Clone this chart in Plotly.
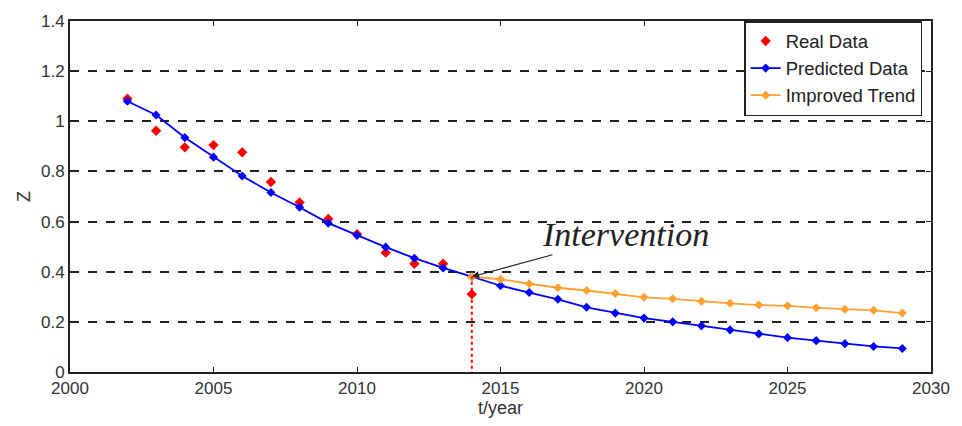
import plotly.graph_objects as go

real_years = [2002, 2003, 2004, 2005, 2006, 2007, 2008, 2009, 2010, 2011, 2012, 2013, 2014]
real_z = [1.09, 0.962, 0.896, 0.905, 0.876, 0.758, 0.676, 0.61, 0.55, 0.476, 0.432, 0.432, 0.31]

pred_years = list(range(2002, 2030))
pred_z = [1.08, 1.025, 0.935, 0.857, 0.782, 0.716, 0.657, 0.594, 0.545, 0.498, 0.454, 0.415, 0.38,
          0.344, 0.317, 0.29, 0.258, 0.235, 0.215, 0.2, 0.184, 0.168, 0.152, 0.137, 0.125, 0.113,
          0.102, 0.094]

impr_years = list(range(2014, 2030))
impr_z = [0.38, 0.37, 0.352, 0.336, 0.325, 0.313, 0.298, 0.292, 0.282, 0.274, 0.267, 0.264,
          0.256, 0.25, 0.246, 0.235]

x_ticks = [2000, 2005, 2010, 2015, 2020, 2025, 2030]
y_ticks = [0, 0.2, 0.4, 0.6, 0.8, 1.0, 1.2, 1.4]
y_tick_labels = ["0", "0.2", "0.4", "0.6", "0.8", "1", "1.2", "1.4"]

intervention_year = 2014
intervention_z = 0.38

fig = go.Figure()

fig.add_trace(go.Scatter(
    x=real_years, y=real_z, mode="markers", name="Real Data",
    marker=dict(symbol="diamond", color="#ff0000", size=8),
))
fig.add_trace(go.Scatter(
    x=pred_years, y=pred_z, mode="lines+markers", name="Predicted Data",
    line=dict(color="#0000ff", width=1.8),
    marker=dict(symbol="diamond", color="#0000ff", size=7),
))
fig.add_trace(go.Scatter(
    x=impr_years, y=impr_z, mode="lines+markers", name="Improved Trend",
    line=dict(color="#ffa030", width=1.8),
    marker=dict(symbol="diamond", color="#ffa030", size=7),
))

# red dotted vertical marker at intervention
fig.add_trace(go.Scatter(
    x=[intervention_year, intervention_year], y=[-0.035, intervention_z], mode="lines",
    line=dict(color="#ff0000", width=2, dash="dot"), showlegend=False, cliponaxis=False,
    hoverinfo="skip",
))

fig.add_annotation(
    x=intervention_year, y=intervention_z, xref="x", yref="y",
    text="<i>Intervention</i>", showarrow=True,
    ax=154, ay=-42, axref="pixel", ayref="pixel",
    arrowhead=2, arrowsize=1.2, arrowwidth=1.2, arrowcolor="#222", standoff=0,
    font=dict(family="Liberation Serif", size=34, color="#222"),
)

fig.update_layout(
    width=962, height=426,
    margin=dict(l=70, r=25, t=14, b=54),
    paper_bgcolor="white", plot_bgcolor="white",
    font=dict(family="Liberation Sans, Arial", size=17, color="#333"),
    legend=dict(
        x=0.783, y=1.0, xanchor="left", yanchor="top",
        bordercolor="#222", borderwidth=1.5, bgcolor="white",
        font=dict(size=18.5, color="#222"), tracegroupgap=0,
    ),
    xaxis=dict(
        range=[2000, 2030], tickvals=x_ticks, showgrid=False, zeroline=False,
        showline=True, linecolor="#222", linewidth=1.8, mirror="ticks",
        ticks="inside", ticklen=5, tickcolor="#222",
        title=dict(text="t/year", standoff=0, font=dict(size=18)),
    ),
    yaxis=dict(
        range=[0, 1.4], tickvals=y_ticks, ticktext=y_tick_labels,
        showgrid=True, gridcolor="#222", griddash="dash", gridwidth=1.5, zeroline=False,
        showline=True, linecolor="#222", linewidth=1.8, mirror="ticks",
        ticks="inside", ticklen=5, tickcolor="#222",
        title=dict(text="Z", standoff=6, font=dict(size=18)),
    ),
)

fig.write_html("out.html", config={"displayModeBar": False},
               post_script="document.body.style.margin='0';")
